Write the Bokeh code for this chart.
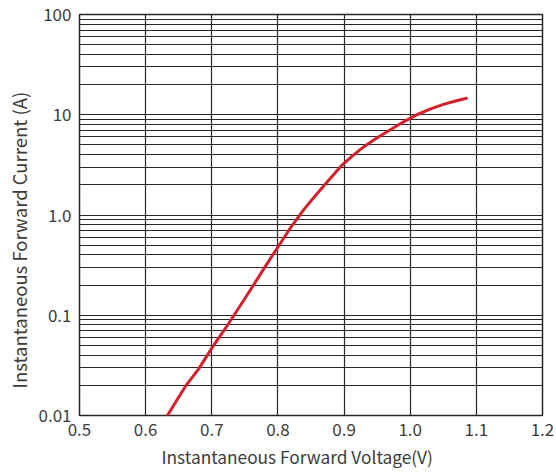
from bokeh.plotting import figure
from bokeh.models import FixedTicker, Range1d, Title
from bokeh.embed import file_html
from bokeh.resources import INLINE

# Curve data (forward voltage V, forward current A)
voltage = [0.633, 0.645, 0.660, 0.680, 0.700, 0.720, 0.740, 0.760, 0.780, 0.800,
           0.820, 0.840, 0.860, 0.880, 0.895, 0.910, 0.930, 0.950, 0.970, 0.990,
           1.010, 1.030, 1.050, 1.070, 1.085]
current = [0.0100, 0.0135, 0.0195, 0.029, 0.047, 0.073, 0.116, 0.186, 0.30, 0.48,
           0.76, 1.15, 1.66, 2.35, 3.05, 3.75, 4.8, 5.9, 7.1, 8.5,
           10.0, 11.4, 12.7, 13.8, 14.6]

x_ticks = [0.5, 0.6, 0.7, 0.8, 0.9, 1.0, 1.1, 1.2]
x_labels = ["0.5", "0.6", "0.7", "0.8", "0.9", "1.0", "1.1", "1.2"]
y_ticks = [0.01, 0.1, 1, 10, 100]
y_labels = ["0.01", "0.1", "1.0", "10", "100"]
y_grid = [m * 10.0 ** e for e in range(-2, 2) for m in range(1, 10)] + [100]

x_title = "Instantaneous Forward Voltage(V)"
y_title = "Instantaneous Forward Current (A)"

FONT = "Noto Sans CJK SC"
TXT = "#3c3c3c"
GRID = "#2a2526"

p = figure(width=556, height=476, y_axis_type="log",
           x_range=Range1d(0.5, 1.2), y_range=Range1d(0.01, 100),
           output_backend="svg", toolbar_location=None,
           min_border_left=79, min_border_right=14,
           min_border_top=14, min_border_bottom=61)

p.xaxis.ticker = FixedTicker(ticks=x_ticks)
p.xaxis.major_label_overrides = {t: l for t, l in zip(x_ticks, x_labels)}
p.yaxis.ticker = FixedTicker(ticks=y_ticks)
p.yaxis.major_label_overrides = {t: l for t, l in zip(y_ticks, y_labels)}

for ax in (p.xaxis, p.yaxis):
    ax.axis_line_color = None
    ax.major_tick_line_color = None
    ax.minor_tick_line_color = None
    ax.major_tick_in = 0
    ax.major_tick_out = 0
    ax.minor_tick_in = 0
    ax.minor_tick_out = 0
    ax.major_label_text_font = FONT
    ax.major_label_text_font_size = "17px"
    ax.major_label_text_color = TXT
p.xaxis.major_label_standoff = 7
p.yaxis.major_label_standoff = 8

# axis titles as side titles (allow offset along the axis)
p.add_layout(Title(text=x_title, align="left", offset=82, standoff=8,
                   vertical_align="middle", text_font=FONT,
                   text_font_size="17.3px", text_font_style="normal",
                   text_color=TXT), "below")
p.add_layout(Title(text=y_title, align="left", offset=27, standoff=6,
                   vertical_align="middle", text_font=FONT,
                   text_font_size="18.5px", text_font_style="normal",
                   text_color=TXT), "left")

p.xgrid.ticker = FixedTicker(ticks=x_ticks)
p.xgrid.grid_line_color = GRID
p.xgrid.grid_line_width = 1.2
p.ygrid.ticker = FixedTicker(ticks=y_grid)
p.ygrid.grid_line_color = GRID
p.ygrid.grid_line_width = 1.2

p.outline_line_color = GRID
p.outline_line_width = 1.5
p.background_fill_color = "white"
p.border_fill_color = "white"

p.line(voltage, current, line_color="#d3202a", line_width=3,
       line_cap="round", line_join="round")

open("out.html", "w").write(file_html(p, INLINE))
